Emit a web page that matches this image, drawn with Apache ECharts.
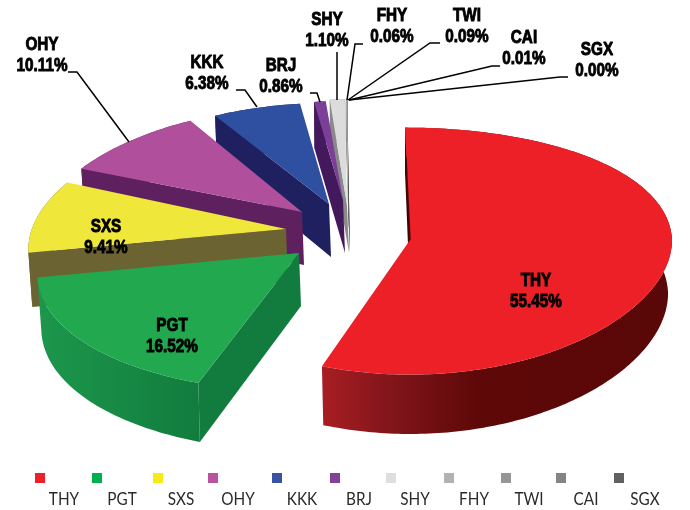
<!DOCTYPE html>
<html>
<head>
<meta charset="utf-8">
<style>
  html, body { margin: 0; padding: 0; background: #fff; }
  #chart { width: 690px; height: 510px; }
</style>
<script src="https://cdn.jsdelivr.net/npm/echarts@6/dist/echarts.min.js"></script>
</head>
<body>
<div id="chart"></div>
<script>
const categories = ['THY', 'PGT', 'SXS', 'OHY', 'KKK', 'BRJ', 'SHY', 'FHY', 'TWI', 'CAI', 'SGX'];
const shares = [55.45, 16.52, 9.41, 10.11, 6.38, 0.86, 1.10, 0.06, 0.09, 0.01, 0.00];

const topColors = ['#ed2027', '#22a84f', '#efe83a', '#b04f9c', '#2f4fa0', '#7c3f98', '#dcdcdc', '#b2b2b2', '#969696', '#848484', '#616161'];
const wallColors = ['#5a0707', '#127c3e', '#6b6331', '#5f2060', '#1f2060', '#43185c', '#8a8a8a', '#777777', '#666666', '#555555', '#444444'];
const legendSwatches = ['#ed2027', '#00b04f', '#f6eb14', '#b9529f', '#3953a4', '#83429a', '#dedede', '#b2b2b2', '#969696', '#848484', '#616161'];

// where each exploded slice sits on the page
const sliceLayout = [
  { x: 410, y: 240, sx: 1, sy: 1, persp: 0, lean: 5, depth: 53 },
  { x: 299, y: 253, sx: 0.985, sy: 1.03, persp: 0.17, lean: 0, depth: 53 },
  { x: 286, y: 229, sx: 0.97, sy: 1, persp: 0.17, lean: 0, depth: 53 },
  { x: 302, y: 212, sx: 0.98, sy: 0.93, persp: 0.17, lean: 0, depth: 53 },
  { x: 329, y: 204, sx: 1, sy: 0.9, persp: 0.17, lean: 0, depth: 53 },
  { x: 343, y: 200, sx: 1, sy: 0.88, persp: 0.17, lean: 0, depth: 53 },
  { x: 347, y: 205, sx: 1, sy: 0.94, persp: 0.17, lean: 0, depth: 48 },
  { x: 348, y: 205, sx: 1, sy: 0.94, persp: 0.17, lean: 0, depth: 48 },
  { x: 348, y: 205, sx: 1, sy: 0.94, persp: 0.17, lean: 0, depth: 48 },
  { x: 348, y: 205, sx: 1, sy: 0.94, persp: 0.17, lean: 0, depth: 48 },
  { x: 348, y: 205, sx: 1, sy: 0.94, persp: 0.17, lean: 0, depth: 48 }
];

const labelCenters = [
  [536, 292], [172, 337], [106, 238], [42, 56], [207, 74], [281, 77],
  [327, 31], [392, 27], [467, 27], [524, 49], [597, 61]
];
const leaderPaths = [
  null, null, null,
  [[68, 72], [77, 72], [129, 142]],
  [[236, 90], [245, 90], [257, 107]],
  [[310, 93], [317, 93], [320, 102]],
  [[337, 52], [337, 100]],
  [[363, 44], [355, 44], [347, 100]],
  [[440, 43], [430, 43], [348, 100]],
  [[500, 66], [492, 66], [349, 100]],
  [[568, 77], [560, 77], [349, 100]]
];
const legendSwatchX = [35, 92, 153, 208, 272, 330, 386, 444, 501, 556, 614];
const legendTextX = [64, 122, 181, 238, 302, 359, 415, 474, 529, 586, 645];

const RX = 262;
const RY = 123.5;

const total = shares.reduce((a, b) => a + b, 0);
const startAngles = [];
shares.reduce((sum, v, i) => {
  startAngles[i] = (sum / total) * 360;
  return sum + v;
}, 0);

function rimPoint(layout, deg) {
  const a = (deg * Math.PI) / 180;
  const c = Math.cos(a);
  const f = 1 - layout.persp * c;
  return [
    layout.x + RX * Math.sin(a) * f * layout.sx - layout.lean * Math.max(c, 0),
    layout.y - RY * c * (1 - 0.09 * c) * layout.sy
  ];
}

function lowerPoint(layout, deg) {
  const p = rimPoint(layout, deg);
  const c = Math.cos((deg * Math.PI) / 180);
  return [
    p[0] - (p[0] - layout.x) * 0.015,
    p[1] + layout.depth * (1 - 0.12 * c)
  ];
}

function arcPoints(fn, layout, from, to) {
  const pts = [];
  const steps = Math.max(1, Math.ceil(to - from));
  for (let i = 0; i <= steps; i++) {
    pts.push(fn(layout, from + ((to - from) * i) / steps));
  }
  return pts;
}

function renderSlice(params) {
  const i = params.dataIndex;
  const layout = sliceLayout[i];
  const from = startAngles[i];
  const to = from + (shares[i] / total) * 360;
  const apex = [layout.x, layout.y];
  const apexLow = [layout.x + (i === 0 ? 0 : 2), layout.y + layout.depth];
  const order = categories.length - i;
  const children = [];

  // outer wall
  const upper = arcPoints(rimPoint, layout, from, to);
  const lower = arcPoints(lowerPoint, layout, from, to);
  let wallFill = wallColors[i];
  if (i === 0) {
    wallFill = {
      type: 'linear', x: 1, y: 0, x2: 0, y2: 0,
      colorStops: [
        { offset: 0, color: '#5a0707' },
        { offset: 0.55, color: '#5e0808' },
        { offset: 0.8, color: '#80151a' },
        { offset: 1, color: '#a81e22' }
      ]
    };
  } else if (i === 1) {
    wallFill = {
      type: 'linear', x: 1, y: 0, x2: 0, y2: 0,
      colorStops: [
        { offset: 0, color: '#127c3e' },
        { offset: 1, color: '#1c974c' }
      ]
    };
  }
  children.push({
    type: 'polygon',
    z2: order,
    shape: { points: upper.concat(lower.slice().reverse()) },
    style: { fill: wallFill }
  });

  // wall along the radial start edge
  children.push({
    type: 'polygon',
    z2: order,
    shape: { points: [apex, rimPoint(layout, from), lowerPoint(layout, from), apexLow] },
    style: { fill: i === 0 ? '#3d0404' : wallColors[i] }
  });

  // top face
  children.push({
    type: 'polygon',
    z2: order + 1,
    shape: { points: [apex].concat(upper) },
    style: { fill: topColors[i] }
  });

  if (i === 0) {
    // dark sliver on the inner edge of the big slice
    children.push({
      type: 'line',
      z2: order + 2,
      shape: { x1: rimPoint(layout, 0)[0] + 1, y1: rimPoint(layout, 0)[1] + 30, x2: apex[0], y2: apex[1] },
      style: { stroke: '#4a0606', lineWidth: 1.5 }
    });
  }

  // leader line
  if (leaderPaths[i]) {
    children.push({
      type: 'polyline',
      z2: 100,
      shape: { points: leaderPaths[i] },
      style: { stroke: '#000', lineWidth: 1.5, fill: null }
    });
  }

  // value label, squeezed because no heavy condensed face is installed
  children.push({
    type: 'text',
    z2: 101,
    x: labelCenters[i][0],
    y: labelCenters[i][1],
    scaleX: 0.85,
    style: {
      x: 0,
      y: 0,
      text: categories[i] + '\n' + shares[i].toFixed(2) + '%',
      fill: '#000',
      stroke: '#000',
      lineWidth: 0.9,
      font: 'bold 18px "Liberation Sans", sans-serif',
      lineHeight: 21,
      textAlign: 'center',
      textVerticalAlign: 'middle'
    }
  });

  // legend entry
  children.push({
    type: 'rect',
    z2: 101,
    shape: { x: legendSwatchX[i], y: 473, width: 10, height: 10 },
    style: { fill: legendSwatches[i] }
  });
  children.push({
    type: 'text',
    z2: 101,
    x: legendTextX[i],
    y: 500,
    scaleX: 0.9,
    style: {
      x: 0,
      y: 0,
      text: categories[i],
      fill: '#2a2a2a',
      font: '17px Lato, "Open Sans", sans-serif',
      textAlign: 'center',
      textVerticalAlign: 'middle'
    }
  });

  return { type: 'group', children: children };
}

const chart = echarts.init(document.getElementById('chart'), null, { renderer: 'canvas' });
chart.setOption({
  backgroundColor: '#fff',
  animation: false,
  series: [
    {
      type: 'custom',
      coordinateSystem: 'none',
      renderItem: renderSlice,
      data: categories.map((name, i) => ({ name: name, value: shares[i] }))
    }
  ]
});
</script>
</body>
</html>
